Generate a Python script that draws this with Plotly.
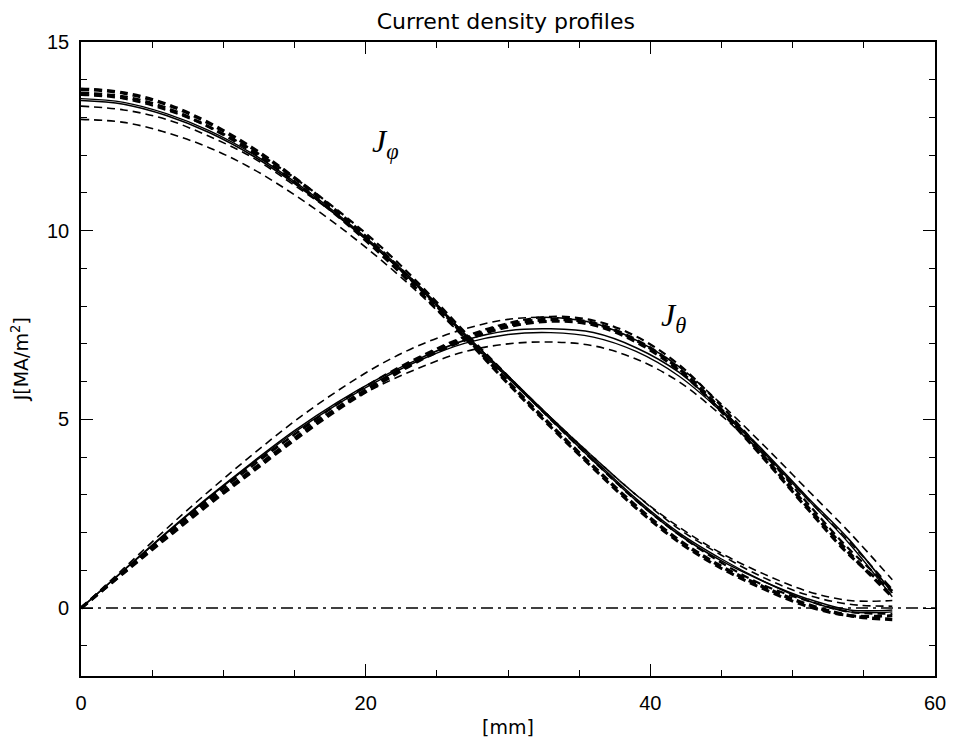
import plotly.graph_objects as go

# ---------------- data ----------------
x_mm = [0, 3, 6, 9, 12, 15, 18, 21, 24, 27, 30, 33, 36, 39, 42, 45, 48, 51, 54, 57]

# J_phi family
jphi_solid1 = [13.45, 13.35, 13.05, 12.6, 12.0, 11.25, 10.4, 9.45, 8.4, 7.2, 6.1, 5.0, 3.9, 2.85, 1.95, 1.25, 0.7, 0.25, -0.05, -0.05]
jphi_solid2 = [13.5, 13.4, 13.1, 12.65, 12.05, 11.3, 10.45, 9.5, 8.45, 7.25, 6.15, 5.05, 3.95, 2.9, 2.0, 1.3, 0.7, 0.2, -0.1, -0.1]
jphi_dash1 = [12.95, 12.87, 12.6, 12.2, 11.65, 10.95, 10.15, 9.25, 8.25, 7.15, 6.1, 5.05, 4.0, 3.0, 2.15, 1.45, 0.9, 0.45, 0.2, 0.2]
jphi_dash2 = [13.3, 13.2, 12.95, 12.5, 11.95, 11.2, 10.4, 9.45, 8.4, 7.25, 6.15, 5.05, 4.0, 3.0, 2.1, 1.4, 0.8, 0.35, 0.1, 0.05]
jphi_dash3 = [13.75, 13.65, 13.35, 12.85, 12.2, 11.4, 10.5, 9.5, 8.4, 7.2, 6.0, 4.85, 3.75, 2.7, 1.8, 1.1, 0.55, 0.1, -0.2, -0.3]
jphi_dash4 = [13.65, 13.55, 13.25, 12.75, 12.1, 11.3, 10.4, 9.4, 8.3, 7.15, 5.95, 4.8, 3.7, 2.65, 1.75, 1.05, 0.5, 0.05, -0.2, -0.2]
jphi_dash5 = [13.6, 13.5, 13.2, 12.75, 12.15, 11.4, 10.55, 9.6, 8.5, 7.3, 6.15, 5.0, 3.9, 2.85, 1.95, 1.2, 0.6, 0.2, -0.1, -0.15]

# J_theta family
jth_solid1 = [0, 1.0, 2.0, 2.95, 3.85, 4.7, 5.45, 6.1, 6.65, 7.1, 7.35, 7.4, 7.3, 6.9, 6.25, 5.25, 4.15, 2.95, 1.8, 0.4]
jth_solid2 = [0, 1.0, 1.98, 2.93, 3.82, 4.66, 5.4, 6.05, 6.6, 7.02, 7.25, 7.3, 7.18, 6.8, 6.15, 5.2, 4.1, 2.9, 1.7, 0.3]
jth_dash1 = [0, 1.05, 2.1, 3.1, 4.05, 4.95, 5.75, 6.45, 7.0, 7.4, 7.65, 7.7, 7.55, 7.1, 6.4, 5.4, 4.3, 3.15, 2.0, 0.75]
jth_dash2 = [0, 0.95, 1.95, 2.9, 3.8, 4.6, 5.3, 5.9, 6.4, 6.8, 7.0, 7.05, 6.95, 6.6, 6.0, 5.1, 4.05, 2.9, 1.75, 0.5]
jth_dash3 = [0, 0.95, 1.9, 2.8, 3.65, 4.5, 5.3, 6.0, 6.65, 7.15, 7.5, 7.65, 7.55, 7.1, 6.35, 5.25, 4.0, 2.7, 1.45, 0.3]
jth_dash4 = [0, 0.93, 1.85, 2.75, 3.6, 4.45, 5.25, 5.95, 6.6, 7.1, 7.45, 7.6, 7.5, 7.05, 6.3, 5.2, 3.95, 2.65, 1.4, 0.45]
jth_dash5 = [0, 0.97, 1.95, 2.88, 3.75, 4.6, 5.4, 6.1, 6.7, 7.2, 7.55, 7.72, 7.62, 7.2, 6.45, 5.35, 4.1, 2.8, 1.55, 0.5]

zero_x = [0, 60]
zero_y = [0, 0]

x_ticks = [0, 20, 40, 60]
y_ticks = [0, 5, 10, 15]

# ---------------- figure ----------------
BLACK = "black"
DASH = "8px,5px"
SANS = "DejaVu Sans, Liberation Sans, Arial, sans-serif"

series = [
    (jphi_dash1, DASH, 1.6),
    (jphi_dash2, DASH, 1.6),
    (jphi_dash3, DASH, 3.5),
    (jphi_dash4, DASH, 3.0),
    (jphi_dash5, DASH, 2.2),
    (jphi_solid1, "solid", 1.6),
    (jphi_solid2, "solid", 1.4),
    (jth_dash1, DASH, 1.6),
    (jth_dash2, DASH, 1.6),
    (jth_dash3, DASH, 3.5),
    (jth_dash4, DASH, 3.0),
    (jth_dash5, DASH, 2.2),
    (jth_solid1, "solid", 1.6),
    (jth_solid2, "solid", 1.4),
]

fig = go.Figure()
for ys, dash, w in series:
    fig.add_trace(go.Scatter(
        x=x_mm, y=ys, mode="lines",
        line=dict(color=BLACK, width=w, dash=dash, shape="spline", smoothing=1.0),
        showlegend=False, hoverinfo="skip",
    ))

fig.add_trace(go.Scatter(
    x=zero_x, y=zero_y, mode="lines",
    line=dict(color=BLACK, width=1.5, dash="12px,5px,3px,5px"),
    showlegend=False, hoverinfo="skip",
))

axis_common = dict(
    showgrid=False, zeroline=False, showline=True, linecolor=BLACK, linewidth=1.6,
    mirror="ticks", ticks="inside", ticklen=12, tickwidth=1.4, tickcolor=BLACK,
    tickfont=dict(family="Liberation Sans, Arial, sans-serif", size=20, color=BLACK),
)

fig.update_xaxes(
    range=[0, 60], tickmode="array", tickvals=x_ticks,
    ticktext=[str(v) for v in x_ticks],
    minor=dict(dtick=5, ticks="inside", ticklen=6, tickwidth=1.2, tickcolor=BLACK, showgrid=False),
    ticklabelstandoff=8,
    **axis_common,
)
fig.update_yaxes(
    range=[-1.8, 15], tickmode="array", tickvals=y_ticks,
    ticktext=[str(v) for v in y_ticks],
    minor=dict(dtick=1, ticks="inside", ticklen=6, tickwidth=1.2, tickcolor=BLACK, showgrid=False),
    ticklabelstandoff=6,
    **axis_common,
)

fig.update_layout(
    width=958, height=747,
    margin=dict(l=81, r=20, t=42, b=71),
    paper_bgcolor="white", plot_bgcolor="white",
    title=dict(text="Current density profiles", x=0.528, xanchor="center", y=0.972, yanchor="middle",
               font=dict(family=SANS, size=22, color=BLACK)),
    annotations=[
        dict(text="[mm]", xref="paper", yref="paper", x=0.5, y=-0.08, xanchor="center", yanchor="middle",
             showarrow=False, font=dict(family=SANS, size=19, color=BLACK)),
        dict(text="J[MA/m<sup>2</sup>]", xref="paper", yref="paper", x=-0.071, y=0.5, textangle=-90,
             xanchor="center", yanchor="middle", showarrow=False,
             font=dict(family=SANS, size=19, color=BLACK)),
        dict(text="<i>J</i><sub><i>φ</i></sub>", x=20.3, y=12.3, xref="x", yref="y",
             xanchor="left", yanchor="middle", showarrow=False,
             font=dict(family="Liberation Serif, Times New Roman, serif", size=32, color=BLACK)),
        dict(text="<i>J</i><sub><i>θ</i></sub>", x=40.6, y=7.7, xref="x", yref="y",
             xanchor="left", yanchor="middle", showarrow=False,
             font=dict(family="Liberation Serif, Times New Roman, serif", size=32, color=BLACK)),
    ],
)

fig.write_html("out.html")
